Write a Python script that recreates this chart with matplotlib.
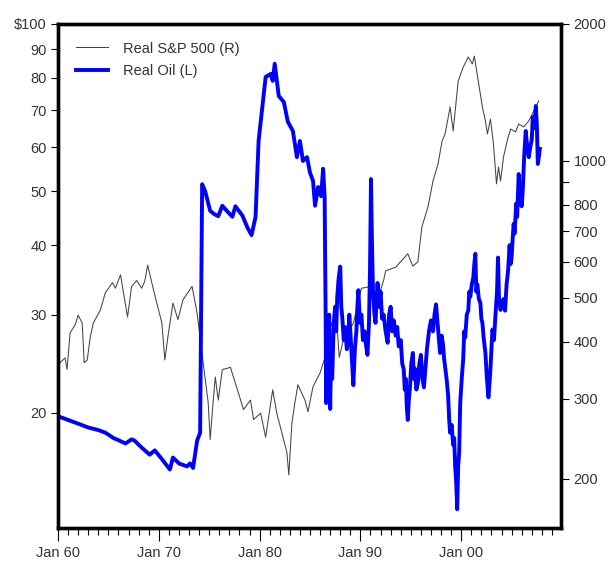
"""Real oil price vs real S&P 500, log scales, 1960-2007."""

import matplotlib

matplotlib.use("Agg")
import matplotlib.pyplot as plt
from matplotlib.lines import Line2D
from matplotlib.ticker import FixedLocator, NullLocator

# Real oil price, left axis ($, log)
oil_years = [
    1960.0, 1961.0, 1962.0, 1963.0, 1964.0, 1964.7, 1965.5, 1966.7, 1967.3, 1967.6,
    1968.3, 1969.1, 1969.6, 1970.3, 1971.1, 1971.4, 1972.0, 1972.8, 1973.1, 1973.4,
    1973.8, 1974.1, 1974.3, 1974.6, 1975.1, 1975.5, 1975.9, 1976.3, 1976.8, 1977.3,
    1977.6, 1978.3, 1978.8, 1979.2, 1979.6, 1979.9, 1980.3, 1980.6, 1981.1, 1981.3,
    1981.5, 1981.9, 1982.4, 1982.8, 1983.3, 1983.7, 1984.0, 1984.3, 1984.7, 1985.0,
    1985.3, 1985.5, 1985.8, 1986.1, 1986.3, 1986.45,
    1986.55, 1986.6, 1986.7, 1986.8, 1986.9, 1987.0, 1987.1, 1987.2, 1987.35, 1987.5,
    1987.6, 1987.7, 1987.85, 1988.0, 1988.1, 1988.2, 1988.35, 1988.5, 1988.65, 1988.8,
    1988.9, 1989.0, 1989.15, 1989.3, 1989.45, 1989.6, 1989.7, 1989.8, 1989.95, 1990.1,
    1990.25, 1990.4, 1990.55, 1990.7, 1990.85, 1990.95, 1991.05, 1991.15, 1991.25, 1991.4,
    1991.5, 1991.6, 1991.7, 1991.85, 1992.0, 1992.15, 1992.3, 1992.5, 1992.7, 1992.85,
    1993.0, 1993.15, 1993.3, 1993.5, 1993.65, 1993.8, 1994.0, 1994.15, 1994.3, 1994.4,
    1994.5, 1994.6, 1994.7, 1994.8, 1994.9, 1995.05, 1995.2, 1995.3, 1995.4, 1995.55,
    1995.7, 1995.85, 1996.0, 1996.15, 1996.3, 1996.45, 1996.6, 1996.8, 1997.0, 1997.2,
    1997.35, 1997.5, 1997.65, 1997.8, 1997.9, 1998.05, 1998.2, 1998.3, 1998.4, 1998.55,
    1998.7, 1998.8, 1998.9, 1999.05, 1999.2, 1999.3, 1999.4, 1999.5, 1999.6, 1999.7,
    1999.8, 1999.9, 2000.05, 2000.2, 2000.3, 2000.4, 2000.55, 2000.7, 2000.8, 2000.9,
    2001.05, 2001.2, 2001.3, 2001.4, 2001.5, 2001.6, 2001.75, 2001.9, 2002.0, 2002.1,
    2002.25, 2002.4, 2002.55, 2002.7, 2002.8, 2002.9, 2003.0, 2003.1, 2003.25, 2003.4,
    2003.55, 2003.65, 2003.75, 2003.9, 2004.05, 2004.2, 2004.35, 2004.5, 2004.65, 2004.8,
    2004.9, 2005.0, 2005.1, 2005.2, 2005.3, 2005.45, 2005.55, 2005.7, 2005.85, 2006.0,
    2006.1, 2006.25, 2006.4, 2006.55, 2006.7, 2006.85, 2007.0, 2007.1, 2007.25, 2007.4,
    2007.5, 2007.6, 2007.7, 2007.8,
]
oil_values = [
    19.7, 19.4, 19.1, 18.8, 18.6, 18.4, 18.0, 17.6, 17.9, 17.8,
    17.3, 16.8, 17.1, 16.5, 15.8, 16.6, 16.2, 16.0, 16.2, 15.9,
    17.8, 18.4, 51.5, 50.0, 46.1, 45.5, 45.1, 47.1, 46.0, 45.0,
    47.0, 45.2, 43.0, 41.7, 45.0, 61.6, 71.8, 80.3, 81.3, 79.0,
    84.8, 74.2, 72.4, 66.7, 64.2, 57.6, 61.6, 56.7, 57.6, 54.0,
    52.2, 47.1, 50.9, 49.0, 54.9, 48.9,
    30.0, 20.8, 28.0, 24.0, 30.0, 20.3, 26.0, 23.0, 29.0, 31.0,
    28.0, 32.3, 35.0, 36.6, 31.0, 29.7, 27.0, 28.5, 26.0, 26.9,
    30.0, 28.0, 25.0, 22.4, 26.0, 28.0, 31.0, 33.2, 29.0, 30.0,
    27.0, 28.0, 26.5, 25.4, 29.0, 36.0, 52.6, 40.0, 33.0, 30.0,
    29.0, 32.0, 34.2, 31.0, 33.0, 29.5, 30.0, 28.0, 26.7, 30.0,
    31.0, 28.0, 29.3, 27.5, 28.5, 26.3, 27.0, 24.5, 23.9, 22.0,
    23.0, 20.5, 19.4, 21.0, 22.0, 24.5, 25.6, 23.0, 24.0, 22.0,
    22.6, 24.5, 25.4, 23.0, 22.2, 24.0, 26.0, 28.0, 29.3, 28.0,
    30.0, 31.3, 29.0, 27.0, 25.6, 27.5, 26.5, 25.0, 24.2, 23.0,
    21.5, 19.5, 18.4, 19.0, 17.5, 18.0, 16.0, 15.0, 13.4, 16.0,
    17.0, 20.8, 23.0, 25.0, 28.0, 27.3, 30.0, 30.5, 33.0, 32.3,
    34.0, 35.0, 37.0, 38.6, 33.0, 34.0, 32.0, 31.5, 29.5, 29.0,
    27.0, 25.6, 23.0, 21.3, 22.5, 24.0, 26.0, 28.2, 27.0, 30.0,
    33.0, 38.0, 32.0, 30.6, 31.5, 32.0, 30.5, 34.0, 36.0, 40.0,
    37.0, 38.0, 41.0, 43.7, 42.0, 47.5, 45.0, 53.7, 49.0, 47.0,
    50.0, 58.0, 64.2, 60.0, 57.6, 60.0, 62.0, 68.0, 65.0, 71.2,
    66.0, 56.0, 57.6, 59.6,
]

# Real S&P 500, right axis (log)
sp_years = [
    1960.2, 1960.7, 1960.9, 1961.2, 1961.7, 1962.0, 1962.4, 1962.6, 1962.9, 1963.2,
    1963.5, 1964.2, 1964.7, 1965.4, 1965.7, 1966.2, 1966.5, 1966.9, 1967.3, 1967.8,
    1968.3, 1968.6, 1968.9, 1969.4, 1969.8, 1970.3, 1970.6, 1970.9, 1971.4, 1971.9,
    1972.4, 1973.3, 1973.8, 1974.4, 1974.9, 1975.1, 1975.3, 1975.6, 1975.9, 1976.3,
    1976.8, 1977.1, 1977.8, 1978.4, 1979.1, 1979.4, 1980.1, 1980.6, 1981.3, 1981.7,
    1982.2, 1982.7, 1982.9, 1983.2, 1983.5, 1983.8, 1984.5, 1984.8, 1985.3, 1986.0,
    1986.5, 1987.0, 1987.6, 1987.9, 1988.3, 1989.3, 1990.1, 1991.0, 1991.7, 1992.3,
    1992.5, 1993.5, 1994.7, 1995.2, 1995.7, 1996.1, 1996.7, 1997.2, 1997.7, 1998.1,
    1998.4, 1998.9, 1999.2, 1999.7, 2000.2, 2000.7, 2001.1, 2001.3, 2001.7, 2002.1,
    2002.4, 2002.6, 2002.9, 2003.2, 2003.5, 2003.7, 2003.9, 2004.2, 2004.6, 2004.9,
    2005.4, 2005.7, 2006.2, 2006.7, 2007.2, 2007.7,
]
sp_values = [
    360, 369, 348, 419, 436, 458, 440, 360, 365, 410,
    440, 470, 513, 540, 525, 562, 513, 454, 529, 546,
    525, 543, 590, 529, 487, 441, 365, 410, 487, 448,
    495, 530, 463, 360, 294, 244, 279, 335, 298, 348,
    350, 352, 314, 284, 298, 270, 279, 247, 314, 279,
    253, 229, 204, 265, 294, 322, 298, 281, 319, 342,
    371, 432, 460, 370, 403, 440, 525, 529, 495, 546,
    573, 584, 625, 587, 600, 716, 792, 903, 984, 1106,
    1146, 1314, 1163, 1498, 1608, 1692, 1634, 1700, 1494, 1314,
    1224, 1146, 1236, 1089, 890, 970, 903, 1021, 1117, 1175,
    1158, 1205, 1188, 1224, 1288, 1355,
]

left_ticks = [20, 30, 40, 50, 60, 70, 80, 90, 100]
left_labels = ["20", "30", "40", "50", "60", "70", "80", "90", r"\$100"]
right_ticks = [200, 300, 400, 500, 600, 700, 800, 900, 1000, 2000]
right_labels = ["200", "300", "400", "500", "600", "700", "800", "", "1000", "2000"]
decade_ticks = [1960, 1970, 1980, 1990, 2000]
decade_labels = ["Jan 60", "Jan 70", "Jan 80", "Jan 90", "Jan 00"]
year_ticks = list(range(1960, 2010))

TEXT = "#333333"
OIL_BLUE = "#0000ff"
SP_COLOR = "#444444"


def main():
    plt.rcParams["font.family"] = ["Liberation Sans", "DejaVu Sans"]
    plt.rcParams["font.size"] = 10.5

    fig = plt.figure(figsize=(6.13, 5.80), dpi=100)
    ax = fig.add_axes([0.0946, 0.0897, 0.8206, 0.8690])
    ax2 = ax.twinx()

    ax2.plot(sp_years, sp_values, color=SP_COLOR, lw=0.75)
    ax.plot(oil_years, oil_values, color=OIL_BLUE, lw=2.8,
            solid_joinstyle="round")
    # oil on top of the S&P line
    ax.set_zorder(ax2.get_zorder() + 1)
    ax.patch.set_visible(False)

    ax.set_xlim(1960, 2009.9)
    ax.set_yscale("log")
    ax.set_ylim(12.4, 100)
    ax2.set_yscale("log")
    ax2.set_ylim(156, 2000)

    ax.yaxis.set_major_locator(FixedLocator(left_ticks))
    ax.yaxis.set_minor_locator(NullLocator())
    ax.set_yticklabels(left_labels)
    ax2.yaxis.set_major_locator(FixedLocator(right_ticks))
    ax2.yaxis.set_minor_locator(NullLocator())
    ax2.set_yticklabels(right_labels)

    ax.xaxis.set_major_locator(FixedLocator(decade_ticks))
    ax.xaxis.set_minor_locator(FixedLocator(year_ticks))
    ax.set_xticklabels(decade_labels)

    ax.tick_params(axis="y", which="major", direction="out", length=5,
                   width=0.8, colors="black", labelcolor=TEXT, pad=3)
    ax2.tick_params(axis="y", which="major", direction="out", length=6,
                    width=0.8, colors="black", labelcolor=TEXT, pad=3)
    ax.tick_params(axis="x", which="major", direction="out", length=9,
                   width=0.8, colors="black", labelcolor=TEXT, pad=4)
    ax.tick_params(axis="x", which="minor", direction="out", length=5,
                   width=0.8, colors="black")

    for a in (ax, ax2):
        for sp in a.spines.values():
            sp.set_linewidth(2.4)
            sp.set_color("black")

    handles = [
        Line2D([], [], color=SP_COLOR, lw=0.75),
        Line2D([], [], color=OIL_BLUE, lw=2.8),
    ]
    ax.legend(handles, ["Real S&P 500 (R)", "Real Oil (L)"],
              loc="upper left", bbox_to_anchor=(0.036, 0.965),
              frameon=False, borderpad=0, borderaxespad=0,
              handlelength=2.2, handletextpad=1.0, labelspacing=0.6,
              labelcolor=TEXT, fontsize=10.5)

    fig.savefig("out.png", dpi=100)


if __name__ == "__main__":
    main()
